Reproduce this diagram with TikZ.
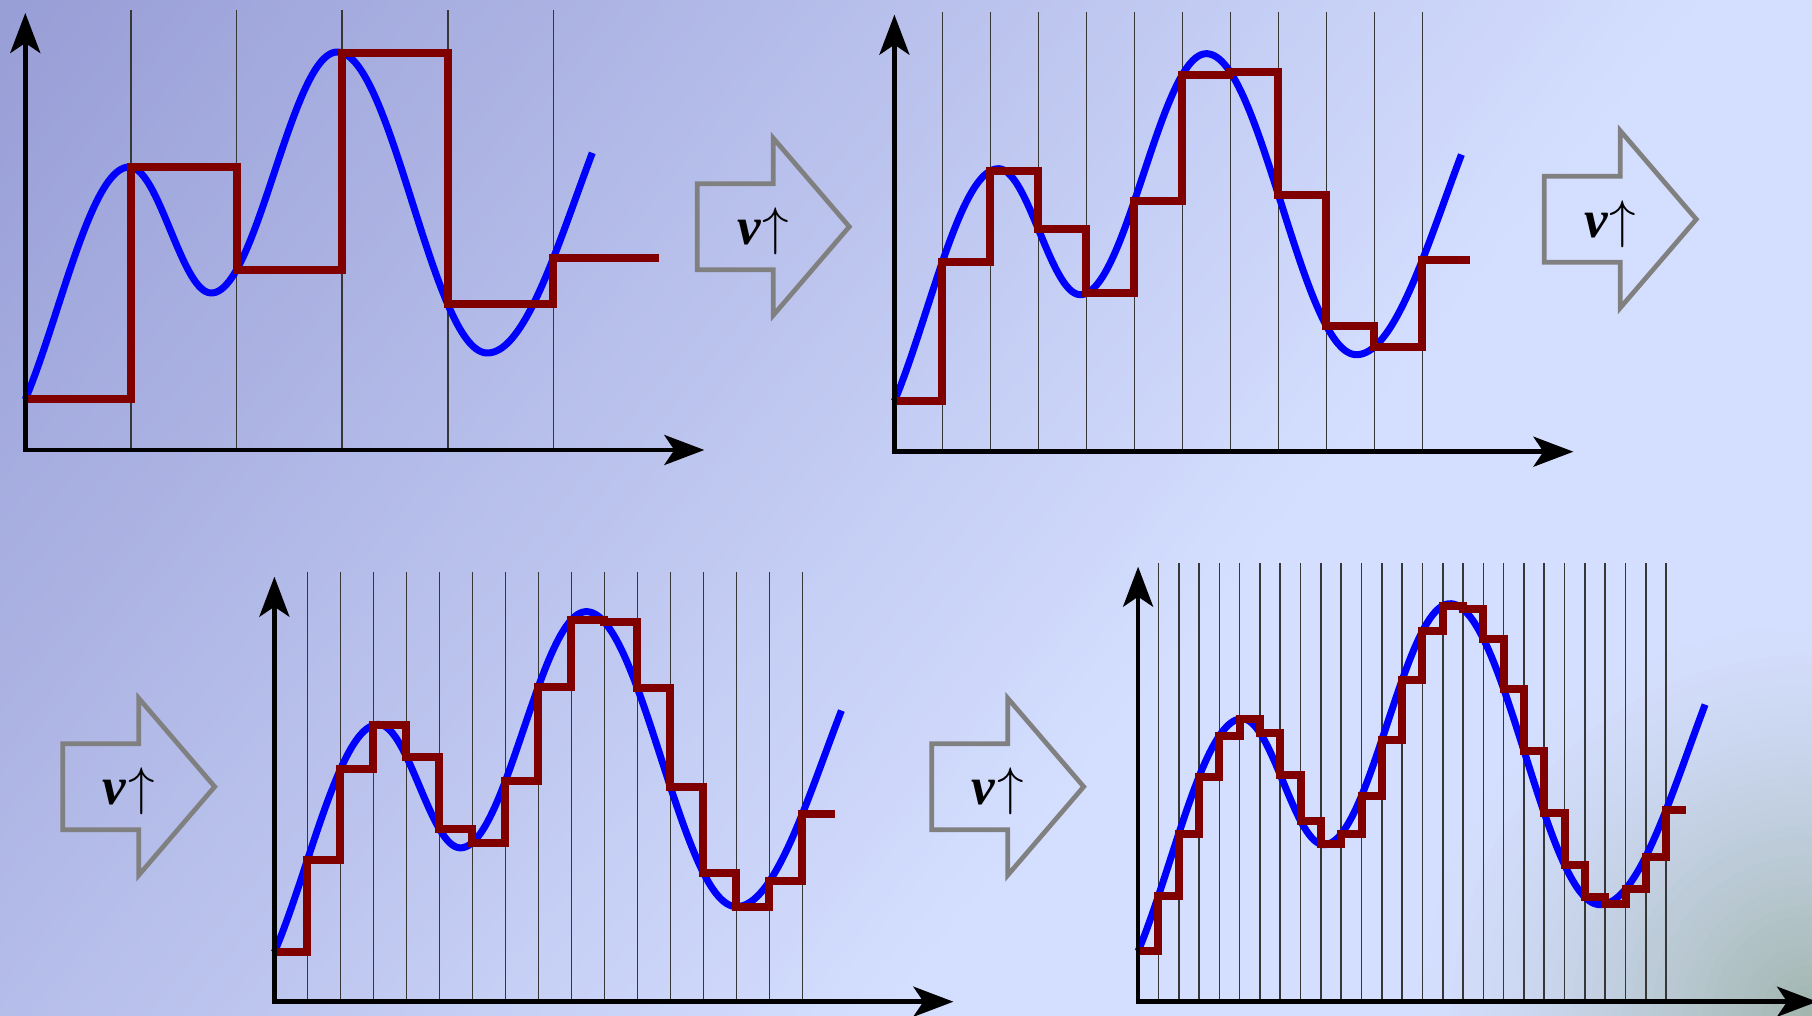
\RequirePackage{fix-cm}
\documentclass[tikz,border=0pt]{standalone}
\usepackage{fontspec}
\usetikzlibrary{arrows.meta}
\newfontfamily\tnr{Liberation Serif}
\definecolor{bgA}{RGB}{152,158,214}
\definecolor{bgB}{RGB}{212,222,254}
\definecolor{bgC}{RGB}{162,182,174}
\definecolor{sigred}{RGB}{128,0,0}
\definecolor{gridgray}{RGB}{55,55,55}
\definecolor{arrgray}{RGB}{128,128,128}
\tikzset{
  declare function={
    cs(\s)=(1-cos(180*\s))/2;
    seg(\uu,\ua,\va,\ub,\vb)=\va+(\vb-\va)*cs((\uu-\ua)/(\ub-\ua));
    sig(\uu)=(\uu<104) ? seg(\uu,-40,0,104,283) : ((\uu<186) ? seg(\uu,104,283,186,157) : ((\uu<312) ? seg(\uu,186,157,312,398) : ((\uu<462) ? seg(\uu,312,398,462,97) : seg(\uu,462,97,640,410))));
  },
  gridline/.style={draw=gridgray, line width=1.6pt},
  sigblue/.style={draw=blue, line width=7pt},
  sigstep/.style={draw=sigred, line width=8pt, line join=miter},
  axisline/.style={draw=black, line width=4.5pt, -{Stealth[length=40pt,width=30pt,inset=10pt]}},
  fatarrow/.style={draw=arrgray, line width=4.7pt, line join=miter},
  lbl/.style={inner sep=0pt, font=\fontsize{53}{60}\selectfont}
}
\newcommand{\sigpanel}[6]{%
\begin{scope}[shift={(#1,#2)}]
  \pgfmathsetmacro\hh{528/#3}
  \foreach \k in {1,...,#3} \draw[gridline] ({\k*\hh},0) -- ({\k*\hh},#4);
  \begin{scope}[yscale=#6]
  \draw[sigblue] plot[domain=0:567,samples=240] (\x,{sig(\x)});
  \draw[sigstep] (0,{sig(0)}) \foreach \k in {1,...,#3} { -- ({\k*\hh},{sig((\k-1)*\hh)}) -- ({\k*\hh},{sig(\k*\hh)}) } -- ({(#3+1)*\hh},{sig(#3*\hh)});
  \end{scope}
  \draw[axisline] (0,-2.25) -- (0,#5);
  \draw[axisline] (-2.25,0) -- (679,0);
\end{scope}}
\newcommand{\bigarrow}[3]{%
  \draw[fatarrow] (#1,#2+43) -- (#1+76,#2+43) -- (#1+76,#2+88.5) -- (#1+152,#2) -- (#1+76,#2-88.5) -- (#1+76,#2-43) -- (#1,#2-43) -- cycle;
  \node[lbl] (#3) at (#1+66,#2-4.8) {{\tnr\bfseries\itshape ν}\kern2pt$\uparrow$};}
\begin{document}
\begin{tikzpicture}[x=1pt,y=1pt]
\useasboundingbox (0,0) rectangle (1812,1015);
\clip (0,0) rectangle (1812,1015);
\fill[bgB] (-5,-5) rectangle (1817,1020);
\begin{scope}[shift={(0,1015)},rotate=-39]
  \foreach \i in {0,...,99} {\fill[bgB!\i!bgA] ({\i*13.21},-2600) rectangle ({\i*13.21+14},2600);}
\end{scope}
\foreach \i in {0,...,39} {\pgfmathsetmacro\rad{400-10*\i}\pgfmathtruncatemacro\tint{100*((\i+1)/40)^1.4}\fill[bgC!\tint!bgB] (1812,0) circle (\rad);}
\sigpanel{25.3}{565}{5}{440}{437}{1}
\sigpanel{894.4}{563.3}{11}{440}{437}{1}
\sigpanel{274.4}{13.3}{16}{430}{425}{0.98}
\sigpanel{1138.1}{13.3}{26}{439}{435}{1}
\bigarrow{697.3}{788.3}{t1}
\bigarrow{1544.3}{795.7}{t2}
\bigarrow{62.7}{228.3}{t3}
\bigarrow{931.7}{228.3}{t4}
\end{tikzpicture}
\end{document}
